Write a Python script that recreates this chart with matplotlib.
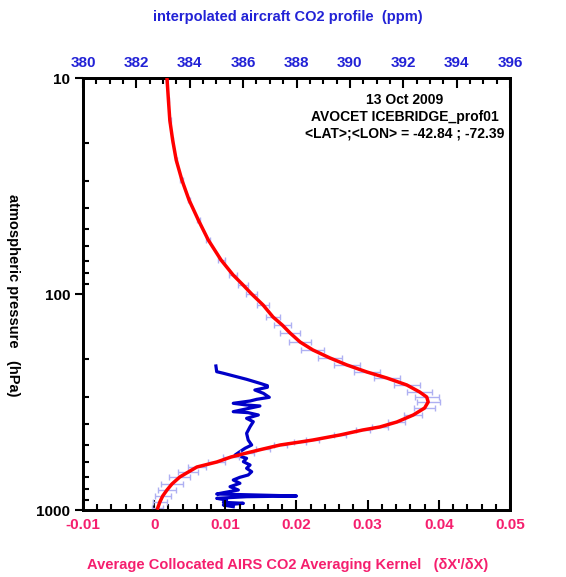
import matplotlib
matplotlib.use("Agg")
import matplotlib.pyplot as plt
from matplotlib.ticker import MultipleLocator, FixedLocator, FuncFormatter, LogLocator, NullFormatter

plt.rcParams['font.family'] = ['Liberation Sans', 'DejaVu Sans']
plt.rcParams['font.weight'] = 'bold'

# averaging kernel profile (bottom axis) vs pressure (hPa)
kernel_pressure = [10.0, 12.6, 15.7, 19.4, 24.0, 29.7, 36.7, 45.4, 56.2, 69.6,
                   81.7, 90.9, 100.0, 112.4, 127.8, 139.2, 151.6,
                   166.8, 181.6, 197.8, 213.2, 229.7, 244.9, 263.8, 284.2, 299.9, 316.2,
                   337.2, 363.3, 391.4, 412.8, 426.2, 449.5, 474.2, 484.5, 500.1, 521.9,
                   544.6, 568.3, 599.5, 632.3, 666.9, 703.5, 757.8, 808.0, 861.4, 918.3,
                   979.0]
kernel_value = [0.0018, 0.0020, 0.0022, 0.0026, 0.0031, 0.0039, 0.0049, 0.0062, 0.0076, 0.0094,
                0.0111, 0.0125, 0.0137, 0.0153, 0.0167, 0.0180, 0.0191,
                0.0205, 0.0223, 0.0247, 0.0271, 0.0299, 0.0327, 0.0355, 0.0373, 0.0383, 0.0385,
                0.0380, 0.0364, 0.0341, 0.0317, 0.0293, 0.0261, 0.0223, 0.0205, 0.0177, 0.0153,
                0.0130, 0.0108, 0.0088, 0.0060, 0.0048, 0.0036, 0.0025, 0.0018, 0.0012, 0.0008,
                0.0005]
kernel_err = [0.0001, 0.0001, 0.0001, 0.0001, 0.0001, 0.0002, 0.0002, 0.0002, 0.0003, 0.0005,
              0.0006, 0.0007, 0.0008, 0.0009, 0.0010, 0.0012, 0.0014,
              0.0015, 0.0016, 0.0017, 0.0018, 0.0018, 0.0018, 0.0018, 0.0018, 0.0017, 0.0016,
              0.0015, 0.0013, 0.0012, 0.0011, 0.0010, 0.0009, 0.0009, 0.0009, 0.0009, 0.0010,
              0.0010, 0.0011, 0.0012, 0.0013, 0.0014, 0.0015, 0.0015, 0.0013, 0.0011, 0.0010,
              0.0008]

# aircraft CO2 profile (top axis, ppm) vs pressure (hPa)
co2_pressure = [215.4, 228.9, 232.8, 248.3, 259.1, 265.8, 270.3, 278.3, 288.3, 300.8,
                307.3, 312.9, 320.6, 326.5, 330.0, 350.6, 354.3, 363.2, 376.3, 390.2,
                411.6, 441.6, 474.2, 500.1, 518.0, 537.1, 556.3, 576.3, 597.5, 619.0,
                641.1, 664.8, 688.6, 705.6, 726.2, 752.2, 780.0, 808.0, 831.6, 843.3,
                852.2, 861.4, 867.8, 883.0, 899.2, 921.5, 931.1, 948.3, 965.6]
co2_ppm = [384.98, 385.01, 385.26, 386.13, 386.63, 386.91, 386.91, 386.44, 386.76, 386.98,
           386.51, 386.26, 385.63, 386.13, 386.63, 385.63, 386.19, 386.57, 386.13, 386.38,
           386.26, 386.13, 386.19, 386.32, 386.07, 385.88, 385.70, 386.13, 386.01, 386.26,
           386.13, 386.32, 386.19, 385.88, 385.63, 385.88, 385.51, 385.82, 385.26, 385.01,
           386.50, 388.00, 386.13, 385.01, 385.38, 385.26, 386.01, 385.26, 385.63]

bottom_ticks = [-0.01, 0, 0.01, 0.02, 0.03, 0.04, 0.05]
top_ticks = [380, 382, 384, 386, 388, 390, 392, 394, 396]
pressure_ticks = [10, 100, 1000]

info_lines = ["13 Oct 2009", "AVOCET ICEBRIDGE_prof01", "<LAT>;<LON> = -42.84 ; -72.39"]

pink = '#f51f6e'
blue_lab = '#2222d6'

fig = plt.figure(figsize=(5.66, 5.77), dpi=100)
ax = fig.add_axes([83 / 566, 1 - 510 / 577, 427 / 566, 432 / 577])
ax2 = ax.twiny()

# CO2 profile on the top axis
ax2.plot(co2_ppm, co2_pressure, color='#0000c8', lw=2.3)
ax2.set_xlim(380, 396)

# averaging kernel with error bars on the bottom axis
ax.errorbar(kernel_value, kernel_pressure, xerr=kernel_err, fmt='none',
            ecolor='#aeb0f2', elinewidth=1, capsize=2.5, capthick=1, zorder=2)
ax.plot(kernel_value, kernel_pressure, color='#ff0000', lw=2.5, zorder=3)
ax.set_xlim(-0.01, 0.05)
ax.set_yscale('log')
ax.set_ylim(1000, 10)

ax.set_zorder(ax2.get_zorder() + 1)
ax.patch.set_visible(False)

for a in (ax, ax2):
    for s in a.spines.values():
        s.set_linewidth(2)

ax.xaxis.set_major_locator(FixedLocator(bottom_ticks))
ax.xaxis.set_minor_locator(MultipleLocator(0.002))
ax.xaxis.set_major_formatter(FuncFormatter(lambda v, p: f"{v:g}"))
ax.tick_params(axis='x', which='major', direction='in', length=7, width=1.5,
               labelsize=11, labelcolor=pink, pad=6)
ax.tick_params(axis='x', which='minor', direction='in', length=4, width=1.5)

ax.yaxis.set_major_locator(FixedLocator(pressure_ticks))
ax.yaxis.set_minor_locator(LogLocator(base=10, subs=range(2, 10)))
ax.yaxis.set_minor_formatter(NullFormatter())
ax.yaxis.set_major_formatter(FuncFormatter(lambda v, p: f"{v:g}"))
ax.tick_params(axis='y', which='major', direction='out', length=6, width=1.5,
               labelsize=11, pad=3)
ax.tick_params(axis='y', which='minor', direction='in', length=4, width=1.5)

ax2.xaxis.set_major_locator(FixedLocator(top_ticks))
ax2.xaxis.set_minor_locator(MultipleLocator(0.5))
ax2.tick_params(axis='x', which='major', direction='in', length=7, width=1.5,
                labelsize=11, labelcolor=blue_lab, pad=6)
ax2.tick_params(axis='x', which='minor', direction='in', length=4, width=1.5)

fig.text(288 / 566, 1 - 17 / 577, "interpolated aircraft CO2 profile  (ppm)",
         color=blue_lab, fontsize=10.5, ha='center', va='center')
fig.text(288 / 566, 1 - 565 / 577, "Average Collocated AIRS CO2 Averaging Kernel   (\u03b4X'/\u03b4X)",
         color=pink, fontsize=10.5, ha='center', va='center')
fig.text(13 / 566, 1 - 295 / 577, "atmospheric pressure   (hPa)",
         rotation=-90, fontsize=10.5, ha='center', va='center')

for i, line in enumerate(info_lines):
    ax.text(405 / 566, 1 - (100 + 17 * i) / 577, line, transform=fig.transFigure,
            fontsize=10, ha='center', va='center')

fig.savefig('out.png', dpi=100)
